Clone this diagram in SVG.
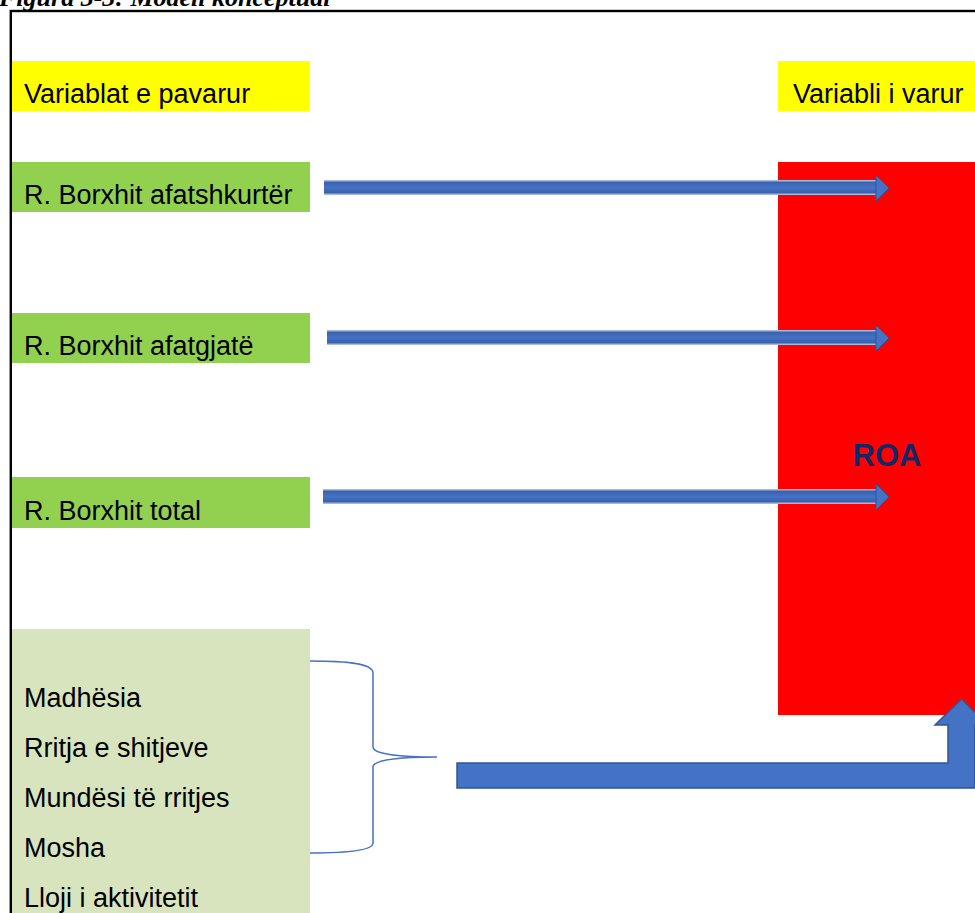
<svg xmlns="http://www.w3.org/2000/svg" width="975" height="913" viewBox="0 0 975 913">
  <defs>
    <linearGradient id="shaft" x1="0" y1="0" x2="0" y2="1">
      <stop offset="0" stop-color="#c3d0ea"/>
      <stop offset="0.16" stop-color="#3a62ad"/>
      <stop offset="0.5" stop-color="#4472C4"/>
      <stop offset="0.84" stop-color="#3a62ad"/>
      <stop offset="1" stop-color="#c3d0ea"/>
    </linearGradient>
    <style>
      .lbl { font-family: "Liberation Sans", Arial, sans-serif; font-size: 27px; fill: #000; }
      .title { font-family: "Liberation Serif", "Times New Roman", serif; font-size: 26px; font-weight: bold; font-style: italic; fill: #000; }
      .roa { font-family: "Liberation Sans", Arial, sans-serif; font-size: 31px; font-weight: bold; fill: #0E2A66; }
      .head { fill: #4472C4; stroke: #2F5597; stroke-width: 1; }
      .bent { fill: #4472C4; stroke: #2F5597; stroke-width: 1.5; }
      .brace { fill: none; stroke: #4472C4; stroke-width: 1.5; }
    </style>
  </defs>
  <rect x="0" y="0" width="975" height="913" fill="#ffffff"/>
  <text class="title" x="-1" y="6">Figura 3-3: Modeli konceptual</text>
  <rect x="10.8" y="11" width="1000" height="1000" fill="none" stroke="#000" stroke-width="2.4"/>

  <g id="hdr-indep">
    <rect x="12" y="61" width="298" height="50" fill="#FFFF00"/>
    <text class="lbl" x="24" y="103">Variablat e pavarur</text>
  </g>
  <g id="hdr-dep">
    <rect x="778" y="61" width="197" height="50" fill="#FFFF00"/>
    <text class="lbl" x="793" y="103">Variabli i varur</text>
  </g>
  <g id="roa">
    <rect x="778" y="162" width="197" height="553" fill="#FF0000"/>
    <text class="roa" x="887" y="466" text-anchor="middle">ROA</text>
  </g>
  <g id="short-debt">
    <rect x="12" y="162" width="298" height="50" fill="#92D050"/>
    <text class="lbl" x="24" y="204">R. Borxhit afatshkurtër</text>
  </g>
  <g id="long-debt">
    <rect x="12" y="313" width="298" height="50" fill="#92D050"/>
    <text class="lbl" x="24" y="355">R. Borxhit afatgjatë</text>
  </g>
  <g id="total-debt">
    <rect x="12" y="477" width="298" height="51" fill="#92D050"/>
    <text class="lbl" x="24" y="520">R. Borxhit total</text>
  </g>
  <g id="controls">
    <rect x="12" y="629" width="298" height="290" fill="#D7E4BD"/>
    <text class="lbl" x="24" y="707">Madhësia</text>
    <text class="lbl" x="24" y="757">Rritja e shitjeve</text>
    <text class="lbl" x="24" y="807">Mundësi të rritjes</text>
    <text class="lbl" x="24" y="857">Mosha</text>
    <text class="lbl" x="24" y="907">Lloji i aktivitetit</text>
  </g>

  <g id="connectors">
    <rect x="324" y="180" width="553" height="15" fill="url(#shaft)"/>
    <polygon class="head" points="876,175 889,188 876,201"/>
    <rect x="327" y="330" width="550" height="15" fill="url(#shaft)"/>
    <polygon class="head" points="876,325 889,338 876,351"/>
    <rect x="323" y="489" width="554" height="15" fill="url(#shaft)"/>
    <polygon class="head" points="876,484 889,497 876,510"/>
    <path class="brace" d="M310,661 C345,661 373,663 373,673 V747 C373,754 400,757 437,757 C400,757 373,760 373,767 V843 C373,851 345,853 310,853"/>
    <path class="bent" d="M457,763 H948 V725 H935 L961.5,699 L988,725 H975 V788 H457 Z"/>
  </g>
</svg>
